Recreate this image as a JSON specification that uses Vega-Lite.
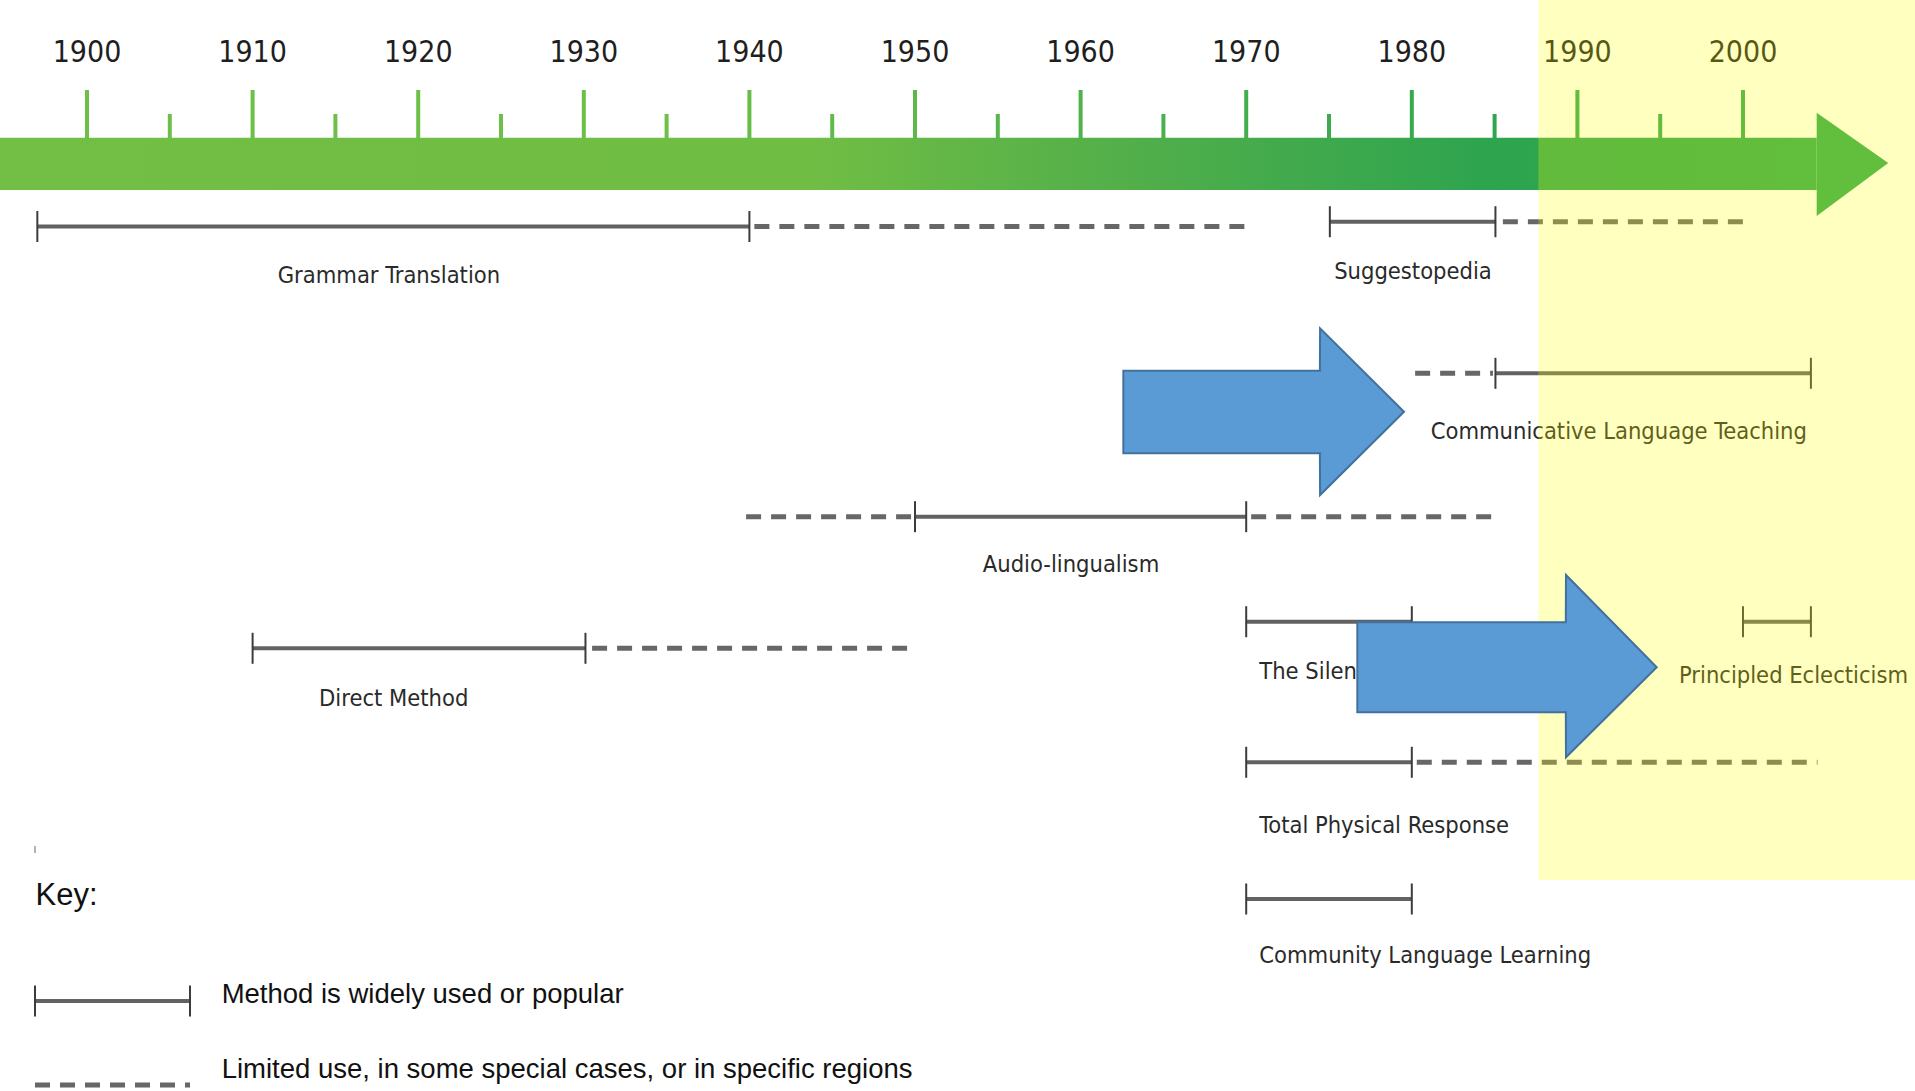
{
  "$schema": "https://vega.github.io/schema/vega-lite/v6.json",
  "width": 1915,
  "height": 1091,
  "autosize": {"type": "none"},
  "padding": 0,
  "background": "#ffffff",
  "config": {"view": {"stroke": null}},
  "datasets": {
    "bar": [{"x0": 1894.7, "x1": 2004.45, "top": 13.77, "bot": 19.0}],
    "head": [
      {"x": 2004.45, "top": 11.27, "bot": 21.6},
      {"x": 2008.77, "top": 16.3, "bot": 16.3}
    ],
    "ticks": [
      {"year": 1900, "top": 9.0}, {"year": 1905, "top": 11.4}, {"year": 1910, "top": 9.0}, {"year": 1915, "top": 11.4},
      {"year": 1920, "top": 9.0}, {"year": 1925, "top": 11.4}, {"year": 1930, "top": 9.0}, {"year": 1935, "top": 11.4},
      {"year": 1940, "top": 9.0}, {"year": 1945, "top": 11.4}, {"year": 1950, "top": 9.0}, {"year": 1955, "top": 11.4},
      {"year": 1960, "top": 9.0}, {"year": 1965, "top": 11.4}, {"year": 1970, "top": 9.0}, {"year": 1975, "top": 11.4},
      {"year": 1980, "top": 9.0}, {"year": 1985, "top": 11.4}, {"year": 1990, "top": 9.0}, {"year": 1995, "top": 11.4},
      {"year": 2000, "top": 9.0}
    ],
    "decades": [
      {"year": 1900, "y": 6.2, "label": "1900"}, {"year": 1910, "y": 6.2, "label": "1910"},
      {"year": 1920, "y": 6.2, "label": "1920"}, {"year": 1930, "y": 6.2, "label": "1930"},
      {"year": 1940, "y": 6.2, "label": "1940"}, {"year": 1950, "y": 6.2, "label": "1950"},
      {"year": 1960, "y": 6.2, "label": "1960"}, {"year": 1970, "y": 6.2, "label": "1970"},
      {"year": 1980, "y": 6.2, "label": "1980"}, {"year": 1990, "y": 6.2, "label": "1990"},
      {"year": 2000, "y": 6.2, "label": "2000"}
    ],
    "solid": [
      {"method": "Grammar Translation", "start": 1897.0, "end": 1940.0, "y": 22.65},
      {"method": "Suggestopedia", "start": 1975.05, "end": 1985.05, "y": 22.17},
      {"method": "Communicative Language Teaching", "start": 1985.05, "end": 2004.1, "y": 37.33},
      {"method": "Audio-lingualism", "start": 1950.0, "end": 1970.0, "y": 51.67},
      {"method": "Direct Method", "start": 1910.0, "end": 1930.1, "y": 64.83},
      {"method": "The Silent Way", "start": 1970.0, "end": 1980.0, "y": 62.17},
      {"method": "Principled Eclecticism", "start": 2000.0, "end": 2004.1, "y": 62.17},
      {"method": "Total Physical Response", "start": 1970.0, "end": 1980.0, "y": 76.23},
      {"method": "Community Language Learning", "start": 1970.0, "end": 1980.0, "y": 89.9},
      {"method": "Key: popular", "start": 1896.86, "end": 1906.22, "y": 100.1}
    ],
    "dashed": [
      {"method": "Grammar Translation", "start": 1940.3, "end": 1970.1, "y": 22.65},
      {"method": "Suggestopedia", "start": 1985.5, "end": 2000.0, "y": 22.17},
      {"method": "Communicative Language Teaching", "start": 1980.2, "end": 1984.9, "y": 37.33},
      {"method": "Audio-lingualism", "start": 1939.8, "end": 1949.8, "y": 51.67},
      {"method": "Audio-lingualism", "start": 1970.3, "end": 1985.0, "y": 51.67},
      {"method": "Direct Method", "start": 1930.5, "end": 1949.9, "y": 64.83},
      {"method": "Total Physical Response", "start": 1980.3, "end": 2004.5, "y": 76.23},
      {"method": "Key: limited", "start": 1896.86, "end": 1906.22, "y": 108.5}
    ],
    "endticks": [
      {"x": 1897.0, "y": 22.65}, {"x": 1940.0, "y": 22.65},
      {"x": 1975.05, "y": 22.17}, {"x": 1985.05, "y": 22.17},
      {"x": 1985.05, "y": 37.33}, {"x": 2004.1, "y": 37.33},
      {"x": 1950.0, "y": 51.67}, {"x": 1970.0, "y": 51.67},
      {"x": 1910.0, "y": 64.83}, {"x": 1930.1, "y": 64.83},
      {"x": 1970.0, "y": 62.17}, {"x": 1980.0, "y": 62.17},
      {"x": 2000.0, "y": 62.17}, {"x": 2004.1, "y": 62.17},
      {"x": 1970.0, "y": 76.23}, {"x": 1980.0, "y": 76.23},
      {"x": 1970.0, "y": 89.9}, {"x": 1980.0, "y": 89.9},
      {"x": 1896.86, "y": 100.1}, {"x": 1906.22, "y": 100.1}
    ],
    "speck": [{"x": 1896.86, "top": 84.6, "bot": 85.3}],
    "labelsCentered": [
      {"label": "Grammar Translation", "x": 1918.23, "y": 28.33},
      {"label": "Suggestopedia", "x": 1980.07, "y": 27.9},
      {"label": "Communicative Language Teaching", "x": 1992.5, "y": 43.9},
      {"label": "Audio-lingualism", "x": 1959.42, "y": 57.15},
      {"label": "Direct Method", "x": 1918.52, "y": 70.6},
      {"label": "Principled Eclecticism", "x": 2003.05, "y": 68.27}
    ],
    "labelsLeft": [
      {"label": "The Silent Way", "x": 1970.79, "y": 67.93},
      {"label": "Total Physical Response", "x": 1970.79, "y": 83.33},
      {"label": "Community Language Learning", "x": 1970.79, "y": 96.33}
    ],
    "keyTitle": [{"label": "Key:", "x": 1896.89, "y": 90.5}],
    "keyText": [
      {"label": "Method is widely used or popular", "x": 1908.13, "y": 100.3},
      {"label": "Limited use, in some special cases, or in specific regions", "x": 1908.13, "y": 107.8}
    ],
    "highlight": [{"x0": 1987.64, "x1": 2010.5, "top": 0, "bot": 88.0}],
    "arrows": [
      {"arrow": "A", "x": 1962.58, "top": 37.07, "bot": 45.33},
      {"arrow": "A", "x": 1974.45, "top": 37.07, "bot": 45.33},
      {"arrow": "A", "x": 1974.46, "top": 32.83, "bot": 49.5},
      {"arrow": "A", "x": 1979.53, "top": 41.17, "bot": 41.17},
      {"arrow": "B", "x": 1976.71, "top": 62.23, "bot": 71.23},
      {"arrow": "B", "x": 1989.3, "top": 62.23, "bot": 71.23},
      {"arrow": "B", "x": 1989.31, "top": 57.5, "bot": 75.73},
      {"arrow": "B", "x": 1994.79, "top": 66.73, "bot": 66.73}
    ]
  },
  "layer": [
    {
      "data": {"name": "bar"},
      "mark": {"type": "rect", "color": {"gradient": "linear", "x1": 0, "y1": 0, "x2": 1, "y2": 0, "stops": [
        {"offset": 0, "color": "#73BE44"},
        {"offset": 0.45, "color": "#70BD44"},
        {"offset": 0.62, "color": "#52AF4A"},
        {"offset": 0.82, "color": "#2EA44F"},
        {"offset": 1, "color": "#2EA852"}
      ]}},
      "encoding": {
        "x": {"field": "x0", "type": "quantitative", "scale": {"domain": [1894.746, 2010.386], "nice": false, "zero": false}, "axis": null},
        "x2": {"field": "x1"},
        "y": {"field": "top", "type": "quantitative", "scale": {"domain": [0, 109.1], "reverse": true, "nice": false, "zero": false}, "axis": null},
        "y2": {"field": "bot"}
      }
    },
    {
      "data": {"name": "head"},
      "mark": {"type": "area", "orient": "vertical", "color": "#2EA852", "opacity": 1},
      "encoding": {
        "x": {"field": "x", "type": "quantitative"},
        "y": {"field": "top", "type": "quantitative", "stack": null},
        "y2": {"field": "bot"}
      }
    },
    {
      "data": {"name": "ticks"},
      "mark": {"type": "rule", "strokeWidth": 4},
      "encoding": {
        "x": {"field": "year", "type": "quantitative"},
        "y": {"field": "top", "type": "quantitative"},
        "y2": {"datum": 13.9},
        "color": {"field": "year", "type": "quantitative", "scale": {"domain": [1935, 1985], "range": ["#6CC047", "#2FA64E"], "clamp": true}, "legend": null}
      }
    },
    {
      "data": {"name": "decades"},
      "mark": {"type": "text", "font": "DejaVu Sans Condensed", "fontSize": 30, "color": "#1f1f1f", "align": "center", "baseline": "alphabetic"},
      "encoding": {
        "x": {"field": "year", "type": "quantitative"},
        "y": {"field": "y", "type": "quantitative"},
        "text": {"field": "label"}
      }
    },
    {
      "data": {"name": "solid"},
      "mark": {"type": "rule", "strokeWidth": 4, "color": "#626262"},
      "encoding": {
        "x": {"field": "start", "type": "quantitative"},
        "x2": {"field": "end"},
        "y": {"field": "y", "type": "quantitative"}
      }
    },
    {
      "data": {"name": "dashed"},
      "mark": {"type": "rule", "strokeWidth": 5, "color": "#676767", "strokeDash": [15, 10]},
      "encoding": {
        "x": {"field": "start", "type": "quantitative"},
        "x2": {"field": "end"},
        "y": {"field": "y", "type": "quantitative"}
      }
    },
    {
      "data": {"name": "endticks"},
      "mark": {"type": "tick", "orient": "vertical", "size": 31, "thickness": 2, "color": "#3c3c3c", "opacity": 1},
      "encoding": {
        "x": {"field": "x", "type": "quantitative"},
        "y": {"field": "y", "type": "quantitative"}
      }
    },
    {
      "data": {"name": "speck"},
      "mark": {"type": "rule", "strokeWidth": 1.5, "color": "#9a9a9a"},
      "encoding": {
        "x": {"field": "x", "type": "quantitative"},
        "y": {"field": "top", "type": "quantitative"},
        "y2": {"field": "bot"}
      }
    },
    {
      "data": {"name": "labelsCentered"},
      "mark": {"type": "text", "font": "DejaVu Sans Condensed", "fontSize": 23.5, "color": "#2a2a2a", "align": "center", "baseline": "alphabetic"},
      "encoding": {
        "x": {"field": "x", "type": "quantitative"},
        "y": {"field": "y", "type": "quantitative"},
        "text": {"field": "label"}
      }
    },
    {
      "data": {"name": "labelsLeft"},
      "mark": {"type": "text", "font": "DejaVu Sans Condensed", "fontSize": 23.5, "color": "#2a2a2a", "align": "left", "baseline": "alphabetic"},
      "encoding": {
        "x": {"field": "x", "type": "quantitative"},
        "y": {"field": "y", "type": "quantitative"},
        "text": {"field": "label"}
      }
    },
    {
      "data": {"name": "keyTitle"},
      "mark": {"type": "text", "font": "Liberation Sans", "fontSize": 31, "color": "#111111", "align": "left", "baseline": "alphabetic"},
      "encoding": {
        "x": {"field": "x", "type": "quantitative"},
        "y": {"field": "y", "type": "quantitative"},
        "text": {"field": "label"}
      }
    },
    {
      "data": {"name": "keyText"},
      "mark": {"type": "text", "font": "Liberation Sans", "fontSize": 27.5, "color": "#111111", "align": "left", "baseline": "alphabetic"},
      "encoding": {
        "x": {"field": "x", "type": "quantitative"},
        "y": {"field": "y", "type": "quantitative"},
        "text": {"field": "label"}
      }
    },
    {
      "data": {"name": "highlight"},
      "mark": {"type": "rect", "color": "#FFFF00", "opacity": 0.25},
      "encoding": {
        "x": {"field": "x0", "type": "quantitative"},
        "x2": {"field": "x1"},
        "y": {"field": "top", "type": "quantitative"},
        "y2": {"field": "bot"}
      }
    },
    {
      "data": {"name": "arrows"},
      "mark": {"type": "area", "orient": "vertical", "color": "#5B9BD5", "opacity": 1, "stroke": "#41719C", "strokeWidth": 2, "strokeJoin": "miter"},
      "encoding": {
        "x": {"field": "x", "type": "quantitative"},
        "y": {"field": "top", "type": "quantitative", "stack": null},
        "y2": {"field": "bot"},
        "detail": {"field": "arrow", "type": "nominal"}
      }
    }
  ]
}
